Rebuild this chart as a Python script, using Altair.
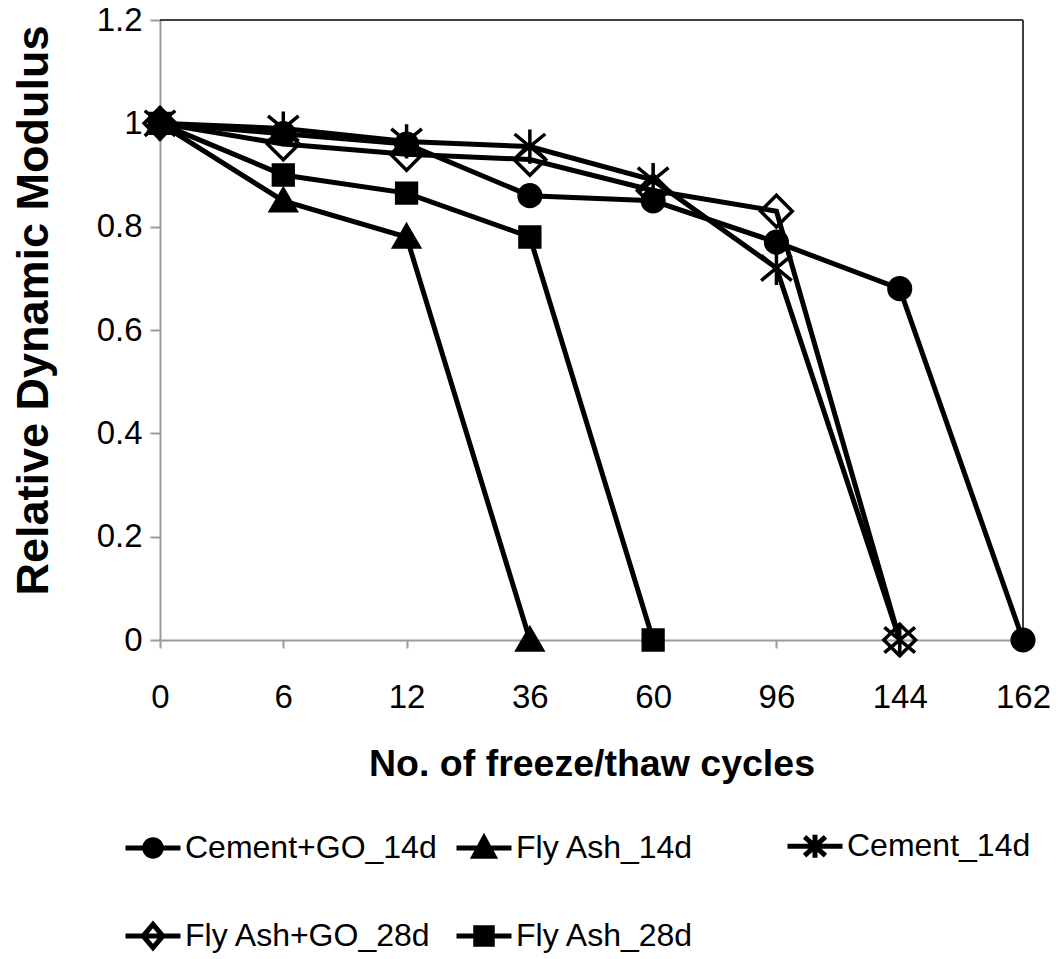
import altair as alt
import pandas as pd

# ---------------- data ----------------
cycles = ["0", "6", "12", "36", "60", "96", "144", "162"]
series = ["Cement+GO_14d", "Fly Ash_14d", "Cement_14d", "Fly Ash+GO_28d", "Fly Ash_28d"]

cement_go_14d = [1.00, 0.98, 0.96, 0.86, 0.85, 0.77, 0.68, 0.00]
fly_ash_14d = [1.00, 0.85, 0.78, 0.00]
cement_14d = [1.00, 0.99, 0.965, 0.955, 0.89, 0.72, 0.00]
fly_ash_go_28d = [1.00, 0.96, 0.94, 0.93, 0.87, 0.83, 0.00]
fly_ash_28d = [1.00, 0.90, 0.865, 0.78, 0.00]

y_ticks = [0, 0.2, 0.4, 0.6, 0.8, 1.0, 1.2]

all_vals = [cement_go_14d, fly_ash_14d, cement_14d, fly_ash_go_28d, fly_ash_28d]
rows = []
for k, (name, vals) in enumerate(zip(series, all_vals)):
    for i, v in enumerate(vals):
        rows.append({"series": name, "cycle": cycles[i], "value": v, "order": k})
df = pd.DataFrame(rows)

# ---------------- styling ----------------
FONT = "Liberation Sans, Arial"

# marker paths (unit square -1..1)
plot_shapes = [
    "M0.6,0A0.6,0.6,0,1,1,-0.6,0A0.6,0.6,0,1,1,0.6,0Z",
    "M0,-0.65L0.7,0.55L-0.7,0.55Z",
    "M0,-0.95V0.95M-0.85,-0.7L0.85,0.7M-0.85,0.7L0.85,-0.7",
    "M0,-0.88L0.88,0L0,0.88L-0.88,0Z",
    "M-0.55,-0.55H0.55V0.55H-0.55Z",
]
legend_shapes = [
    "M-1,0H1M0.3,0A0.3,0.3,0,1,1,-0.3,0A0.3,0.3,0,1,1,0.3,0Z",
    "M-1,0H1M0,-0.36L0.36,0.3L-0.36,0.3Z",
    "M-1,0H1M0,-0.42V0.42M-0.38,-0.34L0.38,0.34M-0.38,0.34L0.38,-0.34",
    "M-1,0H1M0,-0.42L0.36,0L0,0.42L-0.36,0Z",
    "M-1,0H1M-0.3,-0.3H0.3V0.3H-0.3Z",
]
fills = ["black", "black", "black", "transparent", "black"]
strokes = ["black"] * 5

W, H = 863, 620

x_enc = alt.X(
    "cycle:N",
    sort=cycles,
    scale=alt.Scale(type="point", domain=cycles, padding=0),
    axis=alt.Axis(
        title="No. of freeze/thaw cycles",
        labelAngle=0,
        labelFont=FONT,
        labelFontSize=33,
        labelColor="black",
        labelPadding=33,
        tickSize=8,
        tickColor="#9a9a9a",
        tickWidth=2,
        domainColor="#9a9a9a",
        domainWidth=2,
        grid=False,
        titleFont=FONT,
        titleFontSize=37.5,
        titleFontWeight="bold",
        titleColor="black",
        titlePadding=31,
    ),
)
y_enc = alt.Y(
    "value:Q",
    scale=alt.Scale(domain=[0, 1.2], nice=False, zero=True),
    axis=alt.Axis(
        title="Relative Dynamic Modulus",
        values=y_ticks,
        format="~g",
        labelFont=FONT,
        labelFontSize=33,
        labelColor="black",
        labelPadding=8,
        tickSize=10,
        tickColor="#9a9a9a",
        tickWidth=2,
        domainColor="#9a9a9a",
        domainWidth=2,
        grid=False,
        titleFont=FONT,
        titleFontSize=45,
        titleFontWeight="bold",
        titleColor="black",
        titlePadding=40,
        titleY=290,
    ),
)

base = alt.Chart(df)

lines = base.mark_line(color="black", strokeWidth=5).encode(
    x=x_enc, y=y_enc, detail="series:N", order=alt.Order("order:Q")
)

points = base.mark_point(filled=False, color="black", strokeWidth=3.5, size=1296, opacity=1).encode(
    x=x_enc,
    y=y_enc,
    shape=alt.Shape("series:N", scale=alt.Scale(domain=series, range=plot_shapes), legend=None),
    fill=alt.Fill("series:N", scale=alt.Scale(domain=series, range=fills), legend=None),
    order=alt.Order("order:Q"),
)

leg_props = dict(
    orient="none",
    legendX=-37,
    legendY=796,
    columns=3,
    direction="horizontal",
    title=None,
    symbolSize=3025,
    symbolStrokeWidth=5,
    labelFont=FONT,
    labelFontSize=32,
    labelColor="black",
    labelLimit=0,
    labelOffset=2,
    rowPadding=38,
    columnPadding=9,
    gridAlign="all",
    padding=0,
)

legend_layer = base.transform_filter("false").mark_point(
    filled=False, color="black", strokeWidth=5, size=3025, opacity=1
).encode(
    x=x_enc,
    y=y_enc,
    shape=alt.Shape("series:N", scale=alt.Scale(domain=series, range=legend_shapes),
                    legend=alt.Legend(**leg_props)),
    fill=alt.Fill("series:N", scale=alt.Scale(domain=series, range=fills),
                  legend=alt.Legend(**leg_props)),
    stroke=alt.Stroke("series:N", scale=alt.Scale(domain=series, range=strokes),
                      legend=alt.Legend(**leg_props)),
)

top_border = alt.Chart(pd.DataFrame({"a": [0]})).mark_rule(color="#404040", strokeWidth=2).encode(
    x=alt.value(0), x2=alt.value(W), y=alt.value(0)
)
right_border = alt.Chart(pd.DataFrame({"a": [0]})).mark_rule(color="#404040", strokeWidth=2).encode(
    x=alt.value(W), y=alt.value(0), y2=alt.value(H)
)

chart = (
    alt.layer(top_border, right_border, lines, points, legend_layer)
    .resolve_scale(shape="independent", fill="independent", stroke="independent")
    .properties(
        width=W,
        height=H,
        autosize=alt.AutoSizeParams(type="none"),
        padding={"left": 160, "top": 20, "right": 41, "bottom": 319},
        background="white",
    )
    .configure_view(stroke=None)
)

chart.save("out.html", embed_options={"renderer": "svg", "actions": False})
